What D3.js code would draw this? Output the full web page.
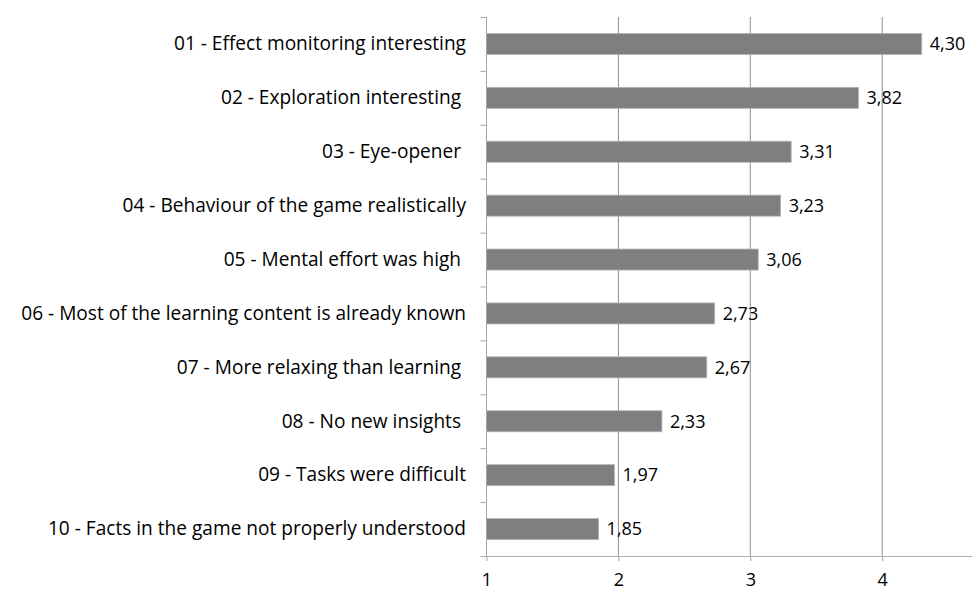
<!DOCTYPE html>
<html>
<head>
<meta charset="utf-8">
<script src="https://cdn.jsdelivr.net/npm/d3@7"></script>
<style>
  html, body { margin: 0; padding: 0; background: #fff; }
  svg { display: block; overflow: hidden; }
  text { font-family: "Open Sans", Lato, sans-serif; fill: #000; white-space: pre; }
</style>
</head>
<body>
<svg id="chart"></svg>
<script>
// categories (top to bottom), trailing spaces kept as in the source
const categories = [
  "01 - Effect monitoring interesting",
  "02 - Exploration interesting ",
  "03 - Eye-opener ",
  "04 - Behaviour of the game realistically",
  "05 - Mental effort was high ",
  "06 - Most of the learning content is already known",
  "07 - More relaxing than learning ",
  "08 - No new insights ",
  "09 - Tasks were difficult",
  "10 - Facts in the game not properly understood"
];
const values = [4.30, 3.82, 3.31, 3.23, 3.06, 2.73, 2.67, 2.33, 1.97, 1.85];
const xTicks = [1, 2, 3, 4];

const width = 972, height = 591;
const plotLeft = 486.5, plotTop = 17, plotBottom = 556;
const unit = 131.9;
const labelSize = "19.1px";
const numberSize = "18px";

const svg = d3.select("#chart").attr("width", width).attr("height", height);

// the axis runs on to 5, past the right edge of the picture
const x = d3.scaleLinear().domain([1, 5]).range([plotLeft, plotLeft + 4 * unit]);
const y = d3.scaleBand()
  .domain(categories)
  .range([plotTop, plotBottom])
  .paddingInner(0.61)
  .paddingOuter(0.305);

const comma = d3.formatLocale({ decimal: ",", thousands: ".", grouping: [3], currency: ["", ""] }).format(".2f");

// vertical gridlines
svg.append("g")
  .selectAll("line")
  .data(xTicks.slice(1))
  .enter()
  .append("line")
  .attr("x1", d => x(d)).attr("x2", d => x(d))
  .attr("y1", plotTop).attr("y2", plotBottom)
  .attr("stroke", "#8e8e8e")
  .attr("stroke-width", 1);

// bars
svg.append("g")
  .selectAll("rect")
  .data(values)
  .enter()
  .append("rect")
  .attr("x", x(1))
  .attr("y", (d, i) => y(categories[i]))
  .attr("width", d => x(d) - x(1))
  .attr("height", y.bandwidth())
  .attr("fill", "#7f7f7f")
  .attr("stroke", "#b4b4b4")
  .attr("stroke-width", 0.8);

// value labels
svg.append("g")
  .selectAll("text")
  .data(values)
  .enter()
  .append("text")
  .attr("x", d => x(d) + 8)
  .attr("y", (d, i) => y(categories[i]) + y.bandwidth() / 2)
  .attr("dy", "0.35em")
  .style("font-size", numberSize)
  .text(d => comma(d));

// category boundary ticks on the vertical axis
const edge = d3.scaleLinear().domain([0, categories.length]).range([plotTop, plotBottom]);
const yEdge = svg.append("g")
  .attr("transform", "translate(" + plotLeft + ",0)")
  .call(d3.axisLeft(edge).ticks(categories.length).tickSize(6).tickFormat(""));
yEdge.selectAll("line").attr("stroke", "#a6a6a6");
yEdge.select(".domain").remove();

// vertical axis line
svg.append("line")
  .attr("x1", plotLeft).attr("x2", plotLeft)
  .attr("y1", plotTop).attr("y2", plotBottom)
  .attr("stroke", "#a6a6a6");

// category labels
const yAxis = svg.append("g")
  .attr("transform", "translate(" + plotLeft + ",0)")
  .call(d3.axisLeft(y).tickSize(0).tickPadding(20.5));
yAxis.select(".domain").remove();
yAxis.selectAll("text")
  .attr("dy", "0.33em")
  .style("font-size", labelSize)
  .style("font-family", "'Open Sans', Lato, sans-serif")
  .attr("fill", "#000");

// horizontal axis
const xAxis = svg.append("g")
  .attr("transform", "translate(0," + plotBottom + ")")
  .call(d3.axisBottom(x).tickValues(xTicks).tickSize(5).tickSizeOuter(0).tickFormat(d3.format("d")));
xAxis.select(".domain")
  .attr("d", "M" + (plotLeft - 6) + ",0.5H" + width)
  .attr("stroke", "#b0b0b0");
xAxis.selectAll("line").attr("stroke", "#a6a6a6");
xAxis.selectAll("text")
  .attr("y", 30)
  .attr("dy", null)
  .style("font-size", numberSize)
  .style("font-family", "'Open Sans', Lato, sans-serif")
  .attr("fill", "#000");
</script>
</body>
</html>
